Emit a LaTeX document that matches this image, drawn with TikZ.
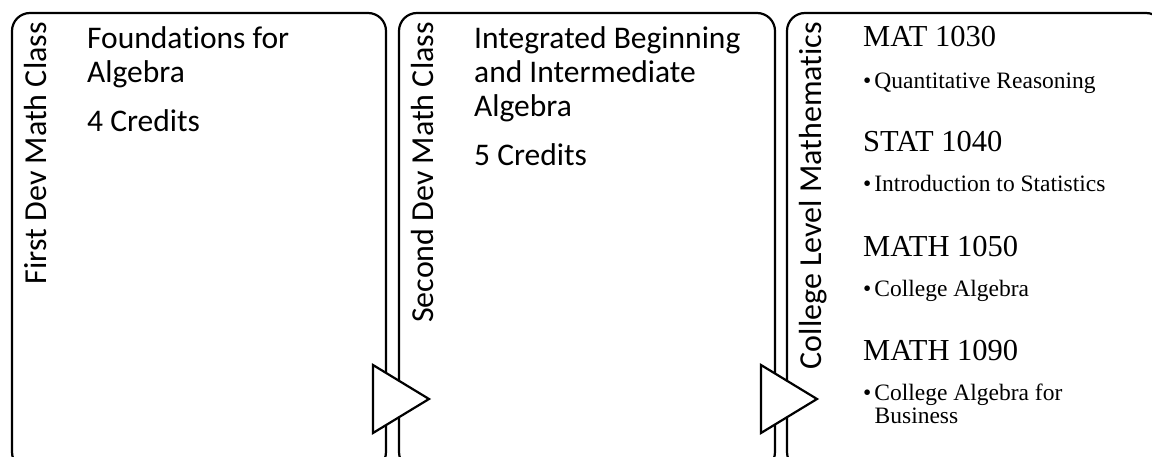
\documentclass[tikz,border=0pt]{standalone}
\usepackage{fontspec}
\setmainfont{Carlito}[Ligatures=NoCommon]
\newfontfamily\serifface{Liberation Serif}
\begin{document}
\begin{tikzpicture}[x=1pt,y=-1pt,
  panel/.style={draw=black,line width=2.2pt,rounded corners=18pt},
  flow/.style={draw=black,line width=2.2pt,fill=white,line join=miter},
  side/.style={rotate=90,anchor=base east,inner sep=0pt,font=\fontsize{32}{34}\selectfont},
  body/.style={anchor=base west,inner sep=0pt,font=\fontsize{31.5}{34}\selectfont},
  course/.style={anchor=base west,inner sep=0pt,font=\serifface\fontsize{30.5}{34}\selectfont},
  item/.style={anchor=base west,inner sep=0pt,font=\serifface\fontsize{23.5}{26}\selectfont}]
\useasboundingbox (0,0) rectangle (1152,457);
\clip (0,0) rectangle (1152,457);

% three stage panels, open past the lower edge
\draw[panel] (12,13) rectangle (386,470);
\draw[panel] (399,13) rectangle (775,470);
\draw[panel] (787,13) rectangle (1164,470);

% arrows between stages
\draw[flow] (373,365) -- (429,399) -- (373,433) -- cycle;
\draw[flow] (761,365) -- (817,399) -- (761,433) -- cycle;

% stage titles
\node[side] (t1) at (46,22) {First Dev Math Class};
\node[side] (t2) at (433,22) {Second Dev Math Class};
\node[side] (t3) at (821,22) {College Level Mathematics};

% first stage
\node[body] (a1) at (87,49) {Foundations for};
\node[body] (a2) at (87,83) {Algebra};
\node[body] (a3) at (87,132) {4 Credits};

% second stage
\node[body] (b1) at (474,49) {Integrated Beginning};
\node[body] (b2) at (474,83) {and Intermediate};
\node[body] (b3) at (474,117) {Algebra};
\node[body] (b4) at (474,166) {5 Credits};

% college level courses
\node[course] (c1) at (863,47) {MAT 1030};
\node[item] (c1i) at (863,89) {•\hspace{3pt}Quantitative Reasoning};
\node[course] (c2) at (863,152) {STAT 1040};
\node[item] (c2i) at (863,192) {•\hspace{3pt}Introduction to Statistics};
\node[course] (c3) at (863,257) {MATH 1050};
\node[item] (c3i) at (863,297) {•\hspace{3pt}College Algebra};
\node[course] (c4) at (863,360) {MATH 1090};
\node[item] (c4i) at (863,400) {•\hspace{3pt}College Algebra for};
\node[item] (c4j) at (874.5,423) {Business};
\end{tikzpicture}
\end{document}
